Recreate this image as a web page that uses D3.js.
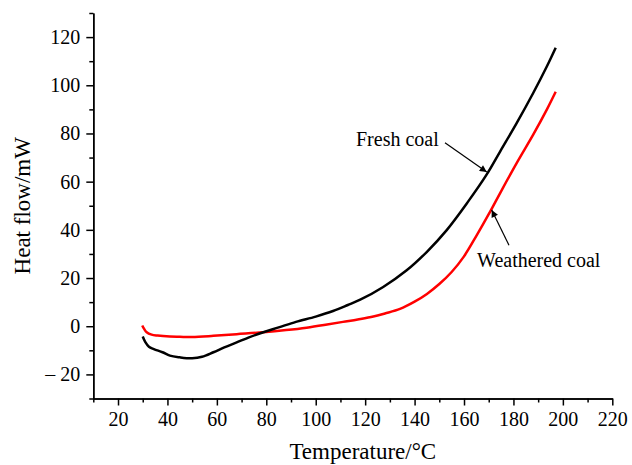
<!DOCTYPE html>
<html>
<head>
<meta charset="utf-8">
<script src="https://cdn.jsdelivr.net/npm/d3@7"></script>
<style>
  body { margin: 0; background: #fff; }
  svg text { font-family: "Liberation Serif", "Times New Roman", serif; fill: #000; }
</style>
</head>
<body>
<svg id="chart" width="632" height="465"></svg>
<script>
// temperatures (°C) and heat flow (mW)
var freshT = [30, 31, 32.5, 34.5, 38, 41, 45, 50, 54, 58.6, 63, 68, 73, 78.8, 85, 92, 100, 107, 113, 118,
  127.3, 136.8, 144.9, 153, 161.5, 169.2, 174.6, 181.3, 188, 193.5, 197.1]
var freshQ = [-4.3, -6.5, -8.5, -9.5, -10.8, -12.2, -12.9, -13.3, -12.7, -10.8, -8.8, -6.7, -4.6, -2.5, -0.5, 1.8, 4.0, 6.3, 8.8, 11,
  16.3, 23.2, 30.8, 39.9, 51.5, 63, 72.5, 84.3, 96.8, 107.8, 115.6]

var weatheredT = [29.8, 30.5, 31.6, 33.6, 36, 41, 45, 50, 58.6, 68, 78.8, 88, 96.3, 104, 111, 117, 123.3, 128,
  134.1, 140, 145, 150, 155, 160, 165, 170, 175, 181.3, 188, 193.5, 197.1]
var weatheredQ = [0.3, -1, -2.5, -3.5, -3.9, -4.3, -4.4, -4.5, -4.0, -3.3, -2.5, -1.6, -0.6, 0.6, 1.8, 2.8, 4.0, 5.3,
  7.2, 10.2, 13.4, 17.5, 22.5, 29, 37.5, 46.5, 56, 67.7, 79.5, 89.9, 97.3]

var xTicks = [20, 40, 60, 80, 100, 120, 140, 160, 180, 200, 220]
var xMinor = [10, 30, 50, 70, 90, 110, 130, 150, 170, 190, 210]
var yTicks = [-20, 0, 20, 40, 60, 80, 100, 120]
var yMinor = [-30, -10, 10, 30, 50, 70, 90, 110, 130]

// label text, arrow tail, arrow tip (data units)
var labels = ["Fresh coal", "Weathered coal"]
var labelPos = [[116.3, 74.6], [165.3, 24.5]]
var arrowFrom = [[152.3, 76.1], [178.2, 33.6]]
var arrowTo = [[169.2, 64.0], [171.2, 48.2]]

var margin = {left: 93.3, right: 19.7, top: 13, bottom: 66.5}
var width = 632, height = 465

var x = d3.scaleLinear().domain([10, 220]).range([margin.left, width - margin.right])
var y = d3.scaleLinear().domain([-30, 130]).range([height - margin.bottom, margin.top])

var svg = d3.select("#chart")

svg.append("defs").append("marker")
  .attr("id", "head")
  .attr("viewBox", "0 0 10 10")
  .attr("refX", 10).attr("refY", 5)
  .attr("markerWidth", 9).attr("markerHeight", 7)
  .attr("markerUnits", "userSpaceOnUse")
  .attr("orient", "auto")
  .append("path").attr("d", "M0,0 L10,5 L0,10 z").attr("fill", "#000")

function styleAxis(g) {
  g.select(".domain").attr("stroke", "#000").attr("stroke-width", 1.5)
  g.selectAll(".tick line").attr("stroke", "#000").attr("stroke-width", 1.5)
  g.selectAll(".tick text").attr("font-size", "20px").attr("font-family", "Liberation Serif")
}

// minor ticks first, major on top
svg.append("g")
  .attr("transform", `translate(0,${height - margin.bottom})`)
  .call(d3.axisBottom(x).tickValues(xMinor).tickSize(4).tickSizeOuter(0).tickFormat(""))
  .call(styleAxis)

svg.append("g")
  .attr("transform", `translate(0,${height - margin.bottom})`)
  .call(d3.axisBottom(x).tickValues(xTicks).tickSize(7).tickSizeOuter(0).tickPadding(6).tickFormat(d3.format("d")))
  .call(styleAxis)

svg.append("g")
  .attr("transform", `translate(${margin.left},0)`)
  .call(d3.axisLeft(y).tickValues(yMinor).tickSize(4).tickSizeOuter(0).tickFormat(""))
  .call(styleAxis)

svg.append("g")
  .attr("transform", `translate(${margin.left},0)`)
  .call(d3.axisLeft(y).tickValues(yTicks).tickSize(7).tickSizeOuter(0).tickPadding(6)
    .tickFormat(d => d < 0 ? "\u2013 " + Math.abs(d) : d))
  .call(styleAxis)

svg.append("text")
  .attr("x", (x(10) + x(220)) / 2 + 10)
  .attr("y", 459)
  .attr("text-anchor", "middle")
  .attr("font-size", "23px")
  .text("Temperature/\u00B0C")

svg.append("text")
  .attr("transform", `translate(30,${(y(-30) + y(130)) / 2}) rotate(-90)`)
  .attr("text-anchor", "middle")
  .attr("font-size", "23px")
  .text("Heat flow/mW")

var line = d3.line()
  .x(d => x(d[0]))
  .y(d => y(d[1]))
  .curve(d3.curveCatmullRom.alpha(0.5))

svg.append("path")
  .datum(d3.zip(weatheredT, weatheredQ))
  .attr("fill", "none")
  .attr("stroke", "#ff0000")
  .attr("stroke-width", 2.5)
  .attr("d", line)

svg.append("path")
  .datum(d3.zip(freshT, freshQ))
  .attr("fill", "none")
  .attr("stroke", "#000")
  .attr("stroke-width", 2.5)
  .attr("d", line)

labels.forEach((t, i) => {
  svg.append("text")
    .attr("x", x(labelPos[i][0]))
    .attr("y", y(labelPos[i][1]))
    .attr("font-size", "20px")
    .text(t)
  svg.append("line")
    .attr("x1", x(arrowFrom[i][0])).attr("y1", y(arrowFrom[i][1]))
    .attr("x2", x(arrowTo[i][0])).attr("y2", y(arrowTo[i][1]))
    .attr("stroke", "#000")
    .attr("stroke-width", 1.2)
    .attr("marker-end", "url(#head)")
})
</script>
</body>
</html>
